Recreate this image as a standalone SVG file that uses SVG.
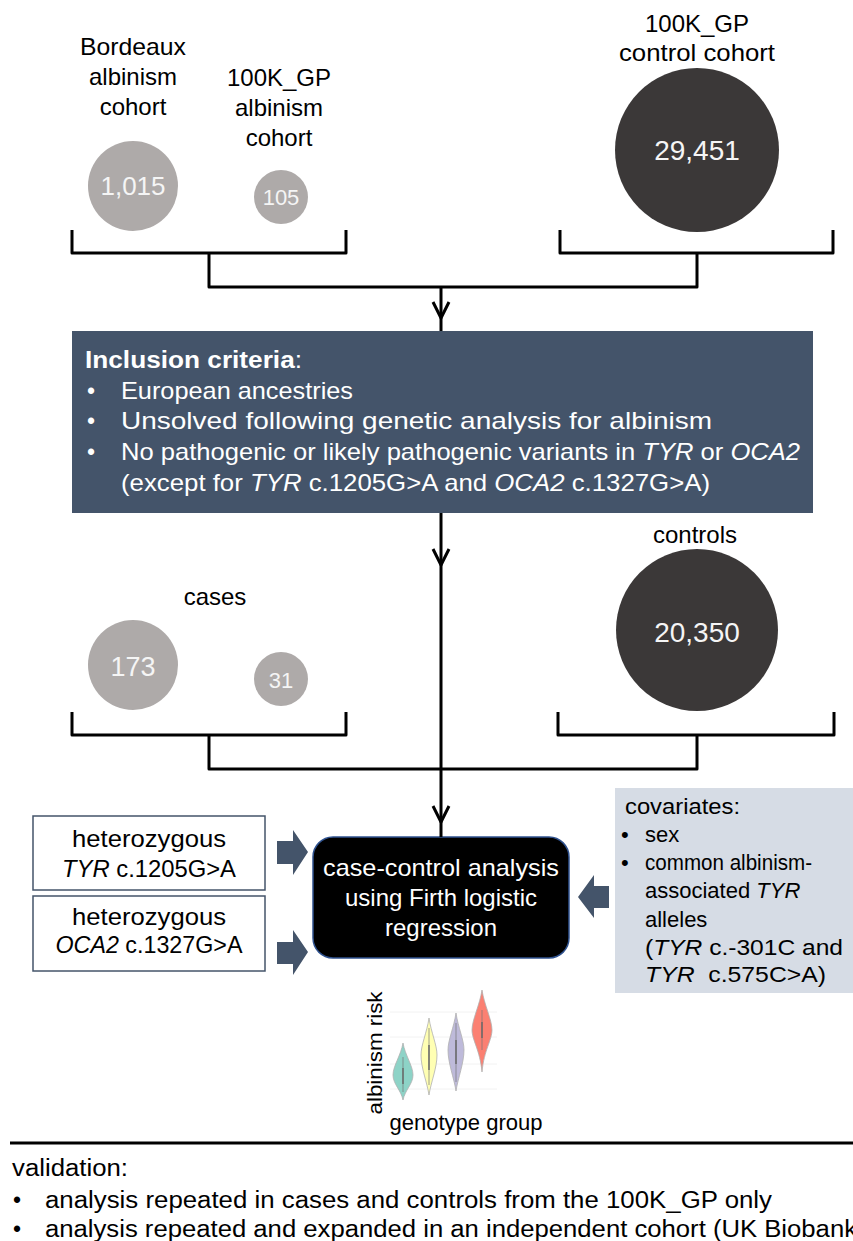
<svg xmlns="http://www.w3.org/2000/svg" width="853" height="1241" viewBox="0 0 853 1241">
<style>
text{font-family:"Liberation Sans",Arial,sans-serif;fill:#000;}
.lbl{font-size:24px;text-anchor:middle;}
.num{fill:#f5f5f5;text-anchor:middle;}
.wt{fill:#fff;font-size:24px;}
.it{font-style:italic;}
.b{font-weight:bold;}
.br{fill:none;stroke:#000;stroke-width:3;stroke-linejoin:round;stroke-linecap:butt;}
.blk{fill:#44546a;}
.gray{fill:#aeaaa9;}
.dark{fill:#3b3838;}
.cv{font-size:22px;}
.bul{font-size:23px;}
</style>
<rect width="853" height="1241" fill="#fff"/>

<g id="bordeaux">
<text class="lbl" x="133" y="55" textLength="106" lengthAdjust="spacingAndGlyphs">Bordeaux</text>
<text class="lbl" x="133" y="85">albinism</text>
<text class="lbl" x="133" y="115">cohort</text>
<circle class="gray" cx="133" cy="186" r="45"/>
<text class="num" x="133" y="195" font-size="26">1,015</text>
</g>
<g id="gp-albinism">
<text class="lbl" x="279" y="86">100K_GP</text>
<text class="lbl" x="279" y="116">albinism</text>
<text class="lbl" x="279" y="146">cohort</text>
<circle class="gray" cx="281" cy="197" r="27"/>
<text class="num" x="281" y="205" font-size="22">105</text>
</g>
<g id="gp-control">
<text class="lbl" x="697" y="32">100K_GP</text>
<text class="lbl" x="697" y="61" textLength="156" lengthAdjust="spacingAndGlyphs">control cohort</text>
<circle class="dark" cx="697" cy="150" r="82"/>
<text class="num" x="697" y="160" font-size="28">29,451</text>
</g>

<g id="inclusion">
<rect x="72" y="331" width="741" height="182" class="blk"/>
<text class="wt" x="85" y="368" textLength="217" lengthAdjust="spacingAndGlyphs"><tspan class="b" style="fill:#fff">Inclusion criteria</tspan>:</text>
<text class="wt bul" x="87" y="399">•</text>
<text class="wt" x="121" y="399" textLength="232" lengthAdjust="spacingAndGlyphs">European ancestries</text>
<text class="wt bul" x="87" y="429">•</text>
<text class="wt" x="121" y="429" textLength="591" lengthAdjust="spacingAndGlyphs">Unsolved following genetic analysis for albinism</text>
<text class="wt bul" x="87" y="460">•</text>
<text class="wt" x="121" y="460" textLength="679" lengthAdjust="spacingAndGlyphs">No pathogenic or likely pathogenic variants in <tspan class="it" style="fill:#fff">TYR</tspan> or <tspan class="it" style="fill:#fff">OCA2</tspan></text>
<text class="wt" x="121" y="491" textLength="589" lengthAdjust="spacingAndGlyphs">(except for <tspan class="it" style="fill:#fff">TYR</tspan> c.1205G&gt;A and <tspan class="it" style="fill:#fff">OCA2</tspan> c.1327G&gt;A)</text>
</g>

<g id="cases">
<text class="lbl" x="215" y="605">cases</text>
<circle class="gray" cx="133" cy="665" r="45"/>
<text class="num" x="133" y="676" font-size="27">173</text>
<circle class="gray" cx="281" cy="679" r="27"/>
<text class="num" x="281" y="688" font-size="22">31</text>
</g>
<g id="controls">
<text class="lbl" x="695" y="543">controls</text>
<circle class="dark" cx="697" cy="630" r="81"/>
<text class="num" x="697" y="642" font-size="28">20,350</text>
</g>

<g id="tyr-box">
<rect x="33" y="816" width="232" height="74" fill="#fff" stroke="#44546a" stroke-width="1.5"/>
<text class="lbl" x="149" y="847" textLength="154" lengthAdjust="spacingAndGlyphs">heterozygous</text>
<text class="lbl" x="149" y="877" textLength="174" lengthAdjust="spacingAndGlyphs"><tspan class="it">TYR</tspan> c.1205G&gt;A</text>
</g>
<g id="oca2-box">
<rect x="33" y="896" width="232" height="75" fill="#fff" stroke="#44546a" stroke-width="1.5"/>
<text class="lbl" x="149" y="925" textLength="154" lengthAdjust="spacingAndGlyphs">heterozygous</text>
<text class="lbl" x="149" y="953" textLength="187" lengthAdjust="spacingAndGlyphs"><tspan class="it">OCA2</tspan> c.1327G&gt;A</text>
</g>

<g id="analysis">
<rect x="313" y="837" width="256" height="121" rx="20" fill="#000" stroke="#2f528f" stroke-width="1.5"/>
<text class="wt" x="441" y="876" text-anchor="middle" textLength="236" lengthAdjust="spacingAndGlyphs">case-control analysis</text>
<text class="wt" x="441" y="906" text-anchor="middle">using Firth logistic</text>
<text class="wt" x="441" y="936" text-anchor="middle">regression</text>
</g>

<g id="covariates">
<rect x="615" y="788" width="238" height="205" fill="#d6dce5"/>
<text class="cv" x="625" y="814" textLength="115" lengthAdjust="spacingAndGlyphs">covariates:</text>
<text class="cv" x="621" y="842">•</text>
<text class="cv" x="645" y="842">sex</text>
<text class="cv" x="621" y="870">•</text>
<text class="cv" x="645" y="870" textLength="167" lengthAdjust="spacingAndGlyphs">common albinism-</text>
<text class="cv" x="645" y="898">associated <tspan class="it">TYR</tspan></text>
<text class="cv" x="645" y="927">alleles</text>
<text class="cv" x="645" y="955" textLength="198" lengthAdjust="spacingAndGlyphs">(<tspan class="it">TYR</tspan> c.-301C and</text>
<text class="cv" x="645" y="982" textLength="181" lengthAdjust="spacingAndGlyphs"><tspan class="it">TYR</tspan>&#160; c.575C&gt;A)</text>
</g>

<g id="violin-plot">
<g stroke="#f2f2f2" stroke-width="1">
<line x1="390" y1="1012" x2="497" y2="1012"/>
<line x1="390" y1="1037" x2="497" y2="1037"/>
<line x1="390" y1="1064" x2="497" y2="1064"/>
<line x1="390" y1="1089" x2="497" y2="1089"/>
</g>
<g stroke="#b0b0b0" stroke-width="0.8">
<path fill="#8dd3c7" d="M403,1043 C405,1055 413,1066 413,1075 C413,1084 405,1090 403,1100 C401,1090 393,1084 393,1075 C393,1066 401,1055 403,1043 Z"/>
<path fill="#ffffb3" d="M429,1018 C431,1032 437,1045 437,1055 C437,1068 431,1082 429,1095 C427,1082 421,1068 421,1055 C421,1045 427,1032 429,1018 Z"/>
<path fill="#bebada" d="M456,1013 C458,1027 464,1040 464,1050 C464,1063 458,1078 456,1091 C454,1078 448,1063 448,1050 C448,1040 454,1027 456,1013 Z"/>
<path fill="#fb8072" d="M482,990 C484,1004 492,1020 492,1030 C492,1040 484,1050 482,1072 C480,1050 472,1040 472,1030 C472,1020 480,1004 482,990 Z"/>
</g>
<g stroke="#777" stroke-width="0.7">
<line x1="403" y1="1057" x2="403" y2="1092"/>
<line x1="429" y1="1028" x2="429" y2="1085"/>
<line x1="456" y1="1023" x2="456" y2="1082"/>
<line x1="482" y1="1010" x2="482" y2="1050"/>
</g>
<g stroke="#666" stroke-width="1.4">
<line x1="403" y1="1068" x2="403" y2="1084"/>
<line x1="429" y1="1045" x2="429" y2="1070"/>
<line x1="456" y1="1040" x2="456" y2="1064"/>
<line x1="482" y1="1022" x2="482" y2="1038"/>
</g>
<text x="382" y="1053" font-size="21" text-anchor="middle" transform="rotate(-90 382 1053)" textLength="123" lengthAdjust="spacingAndGlyphs">albinism risk</text>
<text x="466" y="1130" font-size="22" text-anchor="middle" textLength="153" lengthAdjust="spacingAndGlyphs">genotype group</text>
</g>

<g id="validation">
<line x1="10" y1="1143" x2="853" y2="1143" stroke="#000" stroke-width="3"/>
<text x="12" y="1176" font-size="23" textLength="116" lengthAdjust="spacingAndGlyphs">validation:</text>
<text class="bul" x="13" y="1208">•</text>
<text x="45" y="1208" font-size="23" textLength="727" lengthAdjust="spacingAndGlyphs">analysis repeated in cases and controls from the 100K_GP only</text>
<text class="bul" x="13" y="1237">•</text>
<text x="45" y="1237" font-size="23" textLength="812" lengthAdjust="spacingAndGlyphs">analysis repeated and expanded in an independent cohort (UK Biobank</text>
</g>

<g id="connectors">
<path class="br" d="M72,230 V253 H346 V230"/>
<path class="br" d="M560,230 V253 H833 V230"/>
<path class="br" d="M209,253 V287 H697 V253"/>
<path class="br" d="M441,287 V331"/>
<path class="br" d="M433,302 L441,318 L449,302"/>
<path class="br" d="M441,513 V837"/>
<path class="br" d="M433,549 L441,565 L449,549"/>
<path class="br" d="M72,712 V735 H346 V712"/>
<path class="br" d="M558,712 V735 H834 V712"/>
<path class="br" d="M209,735 V769 H697 V735"/>
<path class="br" d="M433,806 L441,822 L449,806"/>
<polygon class="blk" points="277,841 293,841 293,830 308,852 293,875 293,864 277,864"/>
<polygon class="blk" points="277,942 293,942 293,930 308,952 293,975 293,964 277,964"/>
<polygon class="blk" points="609,886 594,886 594,875 578,897 594,918 594,908 609,908"/>
</g>
</svg>
